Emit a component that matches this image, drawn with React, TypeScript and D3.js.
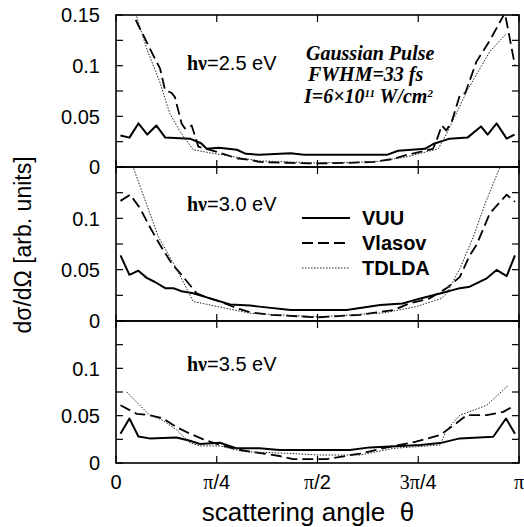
import React from 'react';
import * as d3 from 'd3';

// angle in degrees (0..180 = 0..pi), value in arb. units
const vuu25: [number, number][] = [[2,0.031],[6,0.029],[10,0.043],[14,0.032],[18,0.041],[22,0.029],[33,0.028],[38,0.0234],[40.5,0.018],[46,0.019],[54,0.017],[58,0.013],[64,0.012],[78,0.0135],[84,0.012],[121,0.012],[126,0.016],[138,0.018],[142,0.023],[149,0.028],[157,0.029],[163,0.040],[166,0.032],[170,0.043],[174.5,0.028],[178,0.032]];
const vlasov25: [number, number][] = [[2,0.19],[7.7,0.15],[16.7,0.11],[19.7,0.097],[21.9,0.076],[24.9,0.073],[26.3,0.069],[29.3,0.043],[30.8,0.038],[33.8,0.041],[36.8,0.02],[42,0.017],[54,0.0086],[60,0.007],[64,0.005],[78,0.004],[90,0.0035],[102,0.004],[115,0.005],[124,0.008],[130,0.012],[138,0.016],[141.6,0.018],[143,0.025],[145.5,0.041],[147.5,0.036],[150,0.045],[153.6,0.071],[156,0.073],[161,0.104],[167,0.125],[173.7,0.152],[178.2,0.1]];
const tdlda25: [number, number][] = [[5.5,0.18],[9,0.15],[14,0.115],[19.7,0.083],[24,0.053],[28.6,0.035],[34.5,0.017],[42,0.014],[53,0.01],[64,0.006],[90,0.004],[115,0.005],[130,0.01],[144,0.018],[147.7,0.033],[157,0.076],[167,0.114],[174.5,0.132]];

const vuu30: [number, number][] = [[2,0.064],[6,0.045],[10,0.049],[13.7,0.042],[17.4,0.038],[22,0.032],[25.6,0.032],[29.3,0.029],[34.5,0.027],[42,0.022],[51,0.016],[60,0.015],[64,0.014],[78,0.0107],[90,0.0107],[103,0.0107],[118,0.0156],[128,0.017],[136,0.022],[146,0.0276],[153.6,0.032],[158,0.0334],[165.6,0.0416],[170,0.0497],[174.5,0.0438],[178.2,0.064]];
const vlasov30: [number, number][] = [[2,0.117],[6.3,0.123],[10.7,0.11],[15,0.092],[19.7,0.074],[24.9,0.056],[29.3,0.045],[36,0.027],[42,0.022],[46.4,0.019],[54,0.0124],[60,0.0085],[69,0.006],[90,0.0036],[109,0.006],[124,0.0107],[131,0.017],[140,0.022],[147.7,0.032],[153.6,0.043],[158,0.064],[161,0.074],[167,0.105],[174.5,0.123],[178.2,0.116]];
const tdlda30: [number, number][] = [[5,0.18],[7.8,0.149],[18.9,0.082],[27,0.051],[34.5,0.019],[42,0.0156],[60,0.0075],[90,0.004],[120,0.008],[134,0.014],[145.4,0.022],[147.7,0.027],[153.6,0.051],[159.6,0.082],[165,0.115],[171.5,0.15],[175,0.17]];

const vuu35: [number, number][] = [[2,0.031],[6,0.047],[10,0.028],[15,0.026],[27,0.027],[33,0.0235],[37.5,0.02],[46.4,0.0214],[54,0.0155],[64,0.0155],[73,0.0137],[91,0.0137],[104.5,0.0137],[113.4,0.0165],[127,0.018],[136,0.019],[144.7,0.021],[153.6,0.026],[168.5,0.0277],[174.2,0.047],[178.2,0.031]];
const vlasov35: [number, number][] = [[2,0.061],[9.2,0.052],[15,0.0505],[21,0.047],[27,0.038],[33,0.031],[39,0.025],[46.4,0.019],[54,0.0144],[60,0.012],[73,0.0074],[79,0.004],[94,0.004],[109,0.01],[124,0.018],[134,0.0225],[144.7,0.0295],[152,0.042],[156.6,0.0505],[165.6,0.0505],[173,0.054],[178.2,0.061]];
const tdlda35: [number, number][] = [[4.8,0.075],[15,0.0505],[21,0.045],[27,0.035],[33,0.0214],[37.5,0.018],[46.4,0.018],[57,0.012],[79,0.01],[91,0.0084],[109,0.0084],[124,0.0155],[144.7,0.019],[147.7,0.035],[153.6,0.0505],[165.6,0.061],[175.2,0.082]];

const energies = ['2.5', '3.0', '3.5'];
const xTickVals = [0, 45, 90, 135, 180];
const xTickLabels = [['', '0'], ['π', '/4'], ['π', '/2'], ['3π', '/4'], ['π', '']];
const yTickVals = [0, 0.025, 0.05, 0.075, 0.1, 0.125, 0.15];
const yLabelVals = [0, 0.05, 0.1, 0.15];
const yLabelText = ['0', '0.05', '0.1', '0.15'];
const seriesNames = ['VUU', 'Vlasov', 'TDLDA'];

const sans = 'Liberation Sans, Arial, Helvetica, sans-serif';
const serif = 'Liberation Serif, Times New Roman, serif';

const styles = [
  { stroke: '#000', width: 2, dash: undefined },
  { stroke: '#000', width: 1.8, dash: '11,5' },
  { stroke: '#222', width: 1, dash: '1.5,1.5' },
];

const left = 116, right = 519;
const panels = [
  { top: 15, bottom: 167, data: [vuu25, vlasov25, tdlda25], textY: 70, showTop: true },
  { top: 167, bottom: 321, data: [vuu30, vlasov30, tdlda30], textY: 211, showTop: false },
  { top: 321, bottom: 463, data: [vuu35, vlasov35, tdlda35], textY: 371, showTop: false },
];

const x = d3.scaleLinear().domain([0, 180]).range([left, right]);

const App = () => {
  return (
    <svg width={524} height={527} style={{ position: 'absolute', left: 0, top: 0, background: '#fff' }}>
      <defs>
        {panels.map((p, i) => (
          <clipPath id={`clip${i}`} key={i}>
            <rect x={left} y={p.top} width={right - left} height={p.bottom - p.top} />
          </clipPath>
        ))}
      </defs>

      {panels.map((p, i) => {
        const y = d3.scaleLinear().domain([0, 0.15]).range([p.bottom, p.top]);
        const line = d3.line<[number, number]>().x(d => x(d[0])).y(d => y(d[1]));
        return (
          <g key={i}>
            <g clipPath={`url(#clip${i})`}>
              {p.data.map((s, j) => (
                <path key={j} d={line(s) || ''} fill="none" stroke={styles[j].stroke}
                  strokeWidth={styles[j].width} strokeDasharray={styles[j].dash} strokeLinejoin="round" />
              ))}
            </g>
            {/* ticks inward on all sides */}
            {yTickVals.map(v => (
              <g key={v}>
                <line x1={left} x2={left + 7} y1={y(v)} y2={y(v)} stroke="#000" strokeWidth={1.2} />
                <line x1={right} x2={right - 7} y1={y(v)} y2={y(v)} stroke="#000" strokeWidth={1.2} />
              </g>
            ))}
            {xTickVals.map(v => (
              <g key={v}>
                <line x1={x(v)} x2={x(v)} y1={p.bottom} y2={p.bottom - 7} stroke="#000" strokeWidth={1.2} />
                <line x1={x(v)} x2={x(v)} y1={p.top} y2={p.top + 7} stroke="#000" strokeWidth={1.2} />
              </g>
            ))}
            <rect x={left} y={p.top} width={right - left} height={p.bottom - p.top} fill="none" stroke="#000" strokeWidth={1.6} />
            {yLabelVals.map((v, k) => (v === 0.15 && !p.showTop) ? null : (
              <text key={v} x={100} y={y(v)} dy="0.36em" textAnchor="end" fontFamily={sans} fontSize={20}>{yLabelText[k]}</text>
            ))}
            <text x={187} y={p.textY} fontSize={20}>
              <tspan fontFamily={serif} fontWeight="bold">hν</tspan>
              <tspan fontFamily={sans}>={energies[i]} eV</tspan>
            </text>
          </g>
        );
      })}

      {/* x tick labels */}
      {xTickVals.map((v, k) => (
        <text key={v} x={x(v)} y={489} textAnchor="middle" fontSize={20} fontFamily={sans}>
          {xTickLabels[k][0] && <tspan fontFamily={serif}>{xTickLabels[k][0]}</tspan>}
          {xTickLabels[k][1]}
        </text>
      ))}

      <text x={308} y={521} textAnchor="middle" fontFamily={sans} fontSize={26}>
        {'scattering angle\u00a0\u00a0θ'}
      </text>
      <text transform="translate(31,245) rotate(-90)" textAnchor="middle" fontFamily={sans} fontSize={23}>
        dσ/dΩ [arb. units]
      </text>

      {/* pulse annotation */}
      <g fontFamily={serif} fontWeight="bold" fontStyle="italic" fontSize={20}>
        <text x={306} y={60}>Gaussian Pulse</text>
        <text x={308} y={81}>FWHM=33 fs</text>
        <text x={304} y={103}>
          I=6×10<tspan dy={-6} fontSize={11}>11</tspan><tspan dy={6}> W/cm</tspan><tspan dy={-6} fontSize={11}>2</tspan>
        </text>
      </g>

      {/* legend */}
      {seriesNames.map((n, j) => (
        <g key={n}>
          <line x1={302} x2={350} y1={218 + j * 25} y2={218 + j * 25} stroke={styles[j].stroke}
            strokeWidth={styles[j].width} strokeDasharray={styles[j].dash} />
          <text x={362} y={225 + j * 25} fontFamily={sans} fontWeight="bold" fontSize={20}>{n}</text>
        </g>
      ))}
    </svg>
  );
};

export default App;
